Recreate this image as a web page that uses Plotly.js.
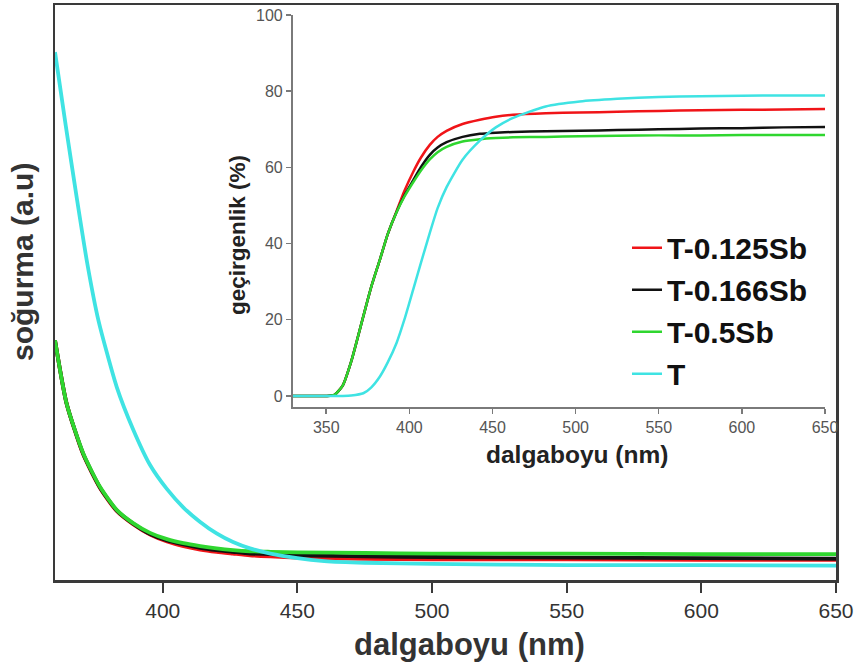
<!DOCTYPE html>
<html>
<head>
<meta charset="utf-8">
<script src="https://cdn.plot.ly/plotly-3.0.1.min.js"></script>
<style>html,body{margin:0;padding:0;background:#fff;}#chart{width:858px;height:666px;}</style>
</head>
<body>
<div id="chart"></div>
<script>
// ---------- data: main absorption plot (arbitrary units) ----------
const seriesNames = ["T-0.125Sb", "T-0.166Sb", "T-0.5Sb", "T"];
const absWlSb = [360, 364.3, 370.5, 376.7, 382.9, 389, 395.3, 401.6, 407.7, 413.9, 420, 426.1, 432.4, 440, 450, 475, 500, 550, 600, 650];
const absRed   = [0.417, 0.307, 0.218, 0.160, 0.120, 0.097, 0.079, 0.067, 0.059, 0.053, 0.049, 0.046, 0.043, 0.041, 0.039, 0.037, 0.036, 0.036, 0.035, 0.035];
const absBlack = [0.417, 0.307, 0.219, 0.161, 0.121, 0.098, 0.080, 0.069, 0.062, 0.056, 0.052, 0.049, 0.046, 0.045, 0.043, 0.041, 0.040, 0.039, 0.038, 0.037];
const absGreen = [0.417, 0.307, 0.220, 0.162, 0.122, 0.099, 0.082, 0.071, 0.064, 0.059, 0.055, 0.052, 0.050, 0.049, 0.048, 0.047, 0.046, 0.046, 0.045, 0.045];
const absWlT = [360, 364, 368.2, 372, 376.1, 382.9, 389.1, 395.3, 401.6, 407.7, 413.9, 420, 426.1, 432.4, 440, 450, 460, 475, 500, 550, 600, 650];
const absCyan = [0.918, 0.79, 0.661, 0.55, 0.452, 0.336, 0.261, 0.200, 0.158, 0.126, 0.101, 0.081, 0.066, 0.055, 0.046, 0.038, 0.033, 0.030, 0.028, 0.026, 0.026, 0.025];

// ---------- data: inset transmittance (%) ----------
const trWl = [330, 340, 350, 355, 360, 365, 372.3, 377, 382.3, 387, 392.3, 397, 402.3, 407, 412.3, 417, 422.4, 432, 442.4, 452, 462.4, 482, 502.5, 525, 550, 575, 600, 625, 650];
const trRed   = [0, 0, 0, 0.3, 2.8, 9, 20.9, 28.5, 35.8, 42.5, 48.5, 53.8, 58.8, 62.6, 65.9, 68.0, 69.6, 71.4, 72.5, 73.3, 73.8, 74.2, 74.4, 74.6, 74.8, 75, 75.1, 75.2, 75.3];
const trBlack = [0, 0, 0, 0.3, 2.8, 9, 20.9, 28.5, 35.8, 42.5, 48.3, 52.6, 56.6, 60.1, 63.3, 65.2, 66.6, 68.0, 68.8, 69.1, 69.3, 69.5, 69.6, 69.8, 70, 70.2, 70.3, 70.5, 70.6];
const trGreen = [0, 0, 0, 0.3, 2.8, 9, 20.9, 28.5, 35.8, 42.5, 48.2, 52.3, 56.1, 59.2, 62.1, 64.0, 65.4, 66.8, 67.4, 67.7, 67.9, 68.0, 68.2, 68.3, 68.4, 68.4, 68.5, 68.5, 68.5];
const trCyan  = [0, 0, 0, 0, 0, 0.1, 0.7, 2.2, 5.1, 8.8, 13.9, 20, 27.9, 35, 42.8, 49.3, 54.8, 62.0, 67.0, 70.5, 73.0, 76.0, 77.3, 78, 78.5, 78.7, 78.8, 78.9, 78.9];

const mainTicks = [400, 450, 500, 550, 600, 650];
const insetXTicks = [350, 400, 450, 500, 550, 600, 650];
const insetYTicks = [0, 20, 40, 60, 80, 100];

const colors = ["#f01418", "#111111", "#2fd62f", "#3fe3e3"];
const FONT = "Liberation Sans, Arial, sans-serif";

const mainX = [absWlSb, absWlSb, absWlSb, absWlT];
const mainY = [absRed, absBlack, absGreen, absCyan];
const insetY = [trRed, trBlack, trGreen, trCyan];

const traces = [];
for (let i = 0; i < 4; i++) {
  traces.push({
    x: mainX[i], y: mainY[i], type: "scatter", mode: "lines",
    line: {color: colors[i], width: 3.8, shape: "spline", smoothing: 0.6},
    name: seriesNames[i], showlegend: false, xaxis: "x", yaxis: "y", hoverinfo: "skip"
  });
}
for (let i = 0; i < 4; i++) {
  traces.push({
    x: trWl, y: insetY[i], type: "scatter", mode: "lines",
    line: {color: colors[i], width: 2.5, shape: "spline", smoothing: 0.6},
    name: seriesNames[i], showlegend: true, xaxis: "x2", yaxis: "y2", hoverinfo: "skip"
  });
}

const layout = {
  width: 858, height: 666,
  margin: {l: 55, r: 22, t: 5, b: 86},
  paper_bgcolor: "#fff", plot_bgcolor: "rgba(0,0,0,0)",
  font: {family: FONT, color: "#333"},
  showlegend: true,
  legend: {
    x: 0.7324, y: 0.623, xanchor: "left", yanchor: "top",
    bgcolor: "rgba(0,0,0,0)", borderwidth: 0,
    font: {family: FONT, size: 30, color: "#111", weight: "bold"},
    tracegroupgap: 0, itemwidth: 30
  },
  xaxis: {
    domain: [0, 1], range: [360, 650], tickvals: mainTicks,
    showline: true, mirror: true, linecolor: "#3a3a3a", linewidth: 2.5,
    ticks: "outside", ticklen: 10, tickwidth: 2, tickcolor: "#3a3a3a",
    tickfont: {family: FONT, size: 21, color: "#333"},
    showgrid: false, zeroline: false, anchor: "y"
  },
  yaxis: {
    domain: [0, 1], range: [0, 1],
    showline: true, mirror: true, linecolor: "#3a3a3a", linewidth: 2.5,
    ticks: "", showticklabels: false, showgrid: false, zeroline: false, anchor: "x"
  },
  xaxis2: {
    domain: [0.3047, 0.9859], range: [330, 650], tickvals: insetXTicks,
    showline: true, mirror: false, linecolor: "#7a7a7a", linewidth: 2,
    ticks: "outside", ticklen: 5, tickwidth: 1.5, tickcolor: "#7a7a7a",
    tickfont: {family: FONT, size: 16, color: "#555"},
    showgrid: false, zeroline: false, anchor: "y2"
  },
  yaxis2: {
    domain: [0.3009, 0.9826], range: [-2.9, 100], tickvals: insetYTicks,
    showline: true, mirror: false, linecolor: "#7a7a7a", linewidth: 2,
    ticks: "outside", ticklen: 5, tickwidth: 1.5, tickcolor: "#7a7a7a",
    tickfont: {family: FONT, size: 16, color: "#555"},
    showgrid: false, zeroline: false, anchor: "x2"
  },
  annotations: [
    {text: "<b>dalgaboyu (nm)</b>", xref: "paper", yref: "paper", x: 0.531, y: -0.113,
     xanchor: "center", yanchor: "middle", showarrow: false, font: {family: FONT, size: 31, color: "#333"}},
    {text: "<b>soğurma (a.u)</b>", xref: "paper", yref: "paper", x: -0.0423, y: 0.553, textangle: -90,
     xanchor: "center", yanchor: "middle", showarrow: false, font: {family: FONT, size: 30, color: "#333"}},
    {text: "<b>dalgaboyu (nm)</b>", xref: "paper", yref: "paper", x: 0.668, y: 0.2174,
     xanchor: "center", yanchor: "middle", showarrow: false, font: {family: FONT, size: 24.5, color: "#222"}},
    {text: "<b>geçirgenlik (%)</b>", xref: "paper", yref: "paper", x: 0.233, y: 0.6, textangle: -90,
     xanchor: "center", yanchor: "middle", showarrow: false, font: {family: FONT, size: 22.5, color: "#222"}}
  ]
};

Plotly.newPlot("chart", traces, layout, {staticPlot: true, displayModeBar: false});
</script>
</body>
</html>
